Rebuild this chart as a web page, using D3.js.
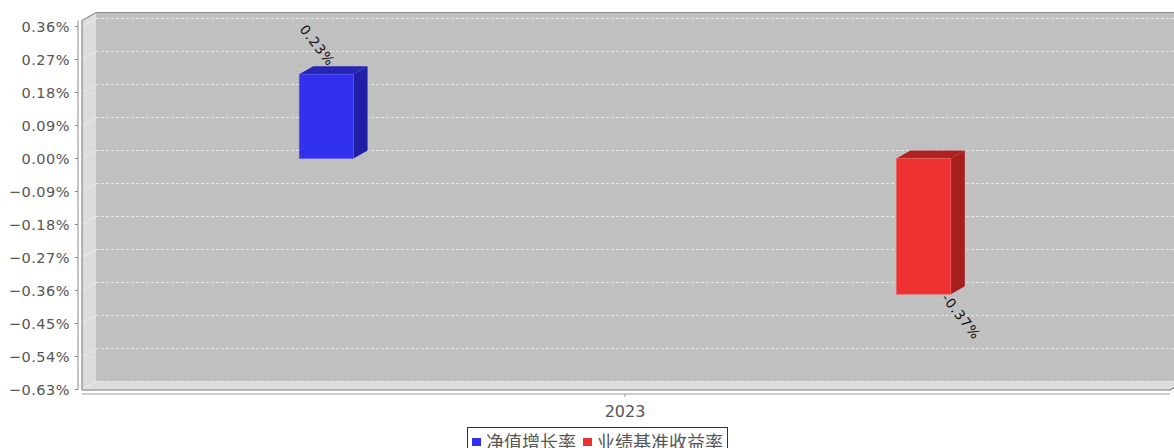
<!DOCTYPE html>
<html lang="zh">
<head>
  <meta charset="utf-8">
  <title>净值增长率 / 业绩基准收益率</title>
  <script src="https://d3js.org/d3.v7.min.js"></script>
  <style>
    body { margin: 0; background: #fff; }
    svg { display: block; }
  </style>
</head>
<body>
<svg id="chart" width="1174" height="448"></svg>
<script>
  // data
  const categories = ["2023"]
  const seriesNames = ["净值增长率", "业绩基准收益率"]
  const seriesValues = [0.23, -0.37]   // percent, one value per series for 2023
  const seriesLabels = ["0.23%", "-0.37%"]
  const yTicks = [0.36, 0.27, 0.18, 0.09, 0, -0.09, -0.18, -0.27, -0.36, -0.45, -0.54, -0.63]

  const frontColors = ["#3030ee", "#ee3030"]
  const sideColors = ["#2020a6", "#a81e1e"]
  const topColors = ["#2626b6", "#b02222"]

  // plot geometry (front plane) and 3d depth offset
  const left = 82, right = 1168, yTop = 20.5, yBottom = 389.5
  const dx = 14, dy = -8

  const svg = d3.select("#chart")

  const y = d3.scaleLinear()
    .domain([-0.63, 0.3764])
    .range([yBottom, yTop])

  const x0 = d3.scaleBand()
    .domain(categories)
    .range([left, right])

  const bw = x0.bandwidth()
  const x1 = d3.scaleBand()
    .domain(seriesNames)
    .range([0.2 * bw, 0.8 * bw])
    .paddingInner(0.909)

  // back wall
  svg.append("rect")
    .attr("x", left + dx).attr("y", yTop + dy)
    .attr("width", 1174 - left - dx + 20).attr("height", yBottom - yTop)
    .attr("fill", "#c0c0c0")

  // left wall
  svg.append("polygon")
    .attr("points", [[left, yTop], [left + dx, yTop + dy], [left + dx, yBottom + dy], [left, yBottom]].join(" "))
    .attr("fill", "#dcdcdc")

  // floor
  svg.append("polygon")
    .attr("points", [[left, yBottom], [left + dx, yBottom + dy], [right + dx, yBottom + dy], [right, yBottom]].join(" "))
    .attr("fill", "#dcdcdc")

  // gridlines on back wall
  svg.append("g")
    .selectAll("line")
    .data(yTicks)
    .enter()
    .append("line")
      .attr("x1", left + dx).attr("x2", 1174)
      .attr("y1", d => y(d) + dy).attr("y2", d => y(d) + dy)
      .attr("stroke", "#e6e6e6")
      .attr("stroke-width", 1)
      .attr("stroke-dasharray", "3,2")

  // faint gridlines on left wall
  svg.append("g")
    .selectAll("line")
    .data(yTicks)
    .enter()
    .append("line")
      .attr("x1", left).attr("x2", left + dx)
      .attr("y1", d => y(d)).attr("y2", d => y(d) + dy)
      .attr("stroke", "#eeeeee")
      .attr("stroke-width", 0.8)

  // plot outline
  const outline = "#8a8a8a"
  svg.append("path")
    .attr("d", `M${left},${yBottom + 0.5} L${left},${yTop} L${left + dx},${yTop + dy} L1174,${yTop + dy}`)
    .attr("fill", "none").attr("stroke", outline).attr("stroke-width", 1.2)
  svg.append("path")
    .attr("d", `M${left},${yBottom + 0.5} L${right + 2},${yBottom + 0.5} L${right + 6},${yBottom - 2}`)
    .attr("fill", "none").attr("stroke", "#707070").attr("stroke-width", 1.2)

  // bars
  const bars = svg.append("g")
  seriesNames.forEach(function (s, i) {
    const v = seriesValues[i]
    const bx = x0(categories[0]) + x1(s)
    const w = x1.bandwidth()
    const y0 = y(0), yv = y(v)
    const ya = Math.min(y0, yv), yb = Math.max(y0, yv)
    // side
    bars.append("polygon")
      .attr("points", [[bx + w, ya], [bx + w + dx, ya + dy], [bx + w + dx, yb + dy], [bx + w, yb]].join(" "))
      .attr("fill", sideColors[i])
    // top
    bars.append("polygon")
      .attr("points", [[bx, ya], [bx + dx, ya + dy], [bx + w + dx, ya + dy], [bx + w, ya]].join(" "))
      .attr("fill", topColors[i])
    // front
    bars.append("rect")
      .attr("x", bx).attr("y", ya)
      .attr("width", w).attr("height", yb - ya)
      .attr("fill", frontColors[i])
      .attr("stroke", i === 0 ? "#5a5af5" : "#f26060")
      .attr("stroke-width", 0.6)

    // rotated value label
    const lx = v >= 0 ? bx + w / 2 + 2 : bx + w - 10
    const ly = v >= 0 ? yv - 7 : yv + 4
    bars.append("text")
      .attr("transform", `translate(${lx},${ly}) rotate(52)`)
      .attr("text-anchor", v >= 0 ? "end" : "start")
      .style("font-family", "'DejaVu Sans', sans-serif")
      .style("font-size", "13.5px")
      .style("letter-spacing", "1px")
      .style("fill", "#111")
      .text(seriesLabels[i])
  })

  // y axis
  const axisX = 78
  svg.append("line")
    .attr("x1", axisX).attr("x2", axisX)
    .attr("y1", yTop).attr("y2", yBottom)
    .attr("stroke", "#8a8a8a").attr("stroke-width", 1)
  const yg = svg.append("g")
  yg.selectAll("line")
    .data(yTicks)
    .enter()
    .append("line")
      .attr("x1", axisX - 3).attr("x2", axisX)
      .attr("y1", d => y(d)).attr("y2", d => y(d))
      .attr("stroke", "#8a8a8a")
  yg.selectAll("text")
    .data(yTicks)
    .enter()
    .append("text")
      .attr("x", 70)
      .attr("y", d => y(d) + 5.5)
      .attr("text-anchor", "end")
      .style("font-family", "'DejaVu Sans', sans-serif")
      .style("font-size", "14.5px")
      .style("letter-spacing", "0.5px")
      .style("fill", "#555")
      .text(d => (d < 0 ? "\u2212" : "") + Math.abs(d).toFixed(2) + "%")

  // category axis
  const axisY = 394
  svg.append("line")
    .attr("x1", left).attr("x2", right + 2)
    .attr("y1", axisY).attr("y2", axisY)
    .attr("stroke", "#9a9a9a")
  const cx = x0(categories[0]) + bw / 2
  svg.append("line")
    .attr("x1", cx).attr("x2", cx)
    .attr("y1", axisY).attr("y2", axisY + 3)
    .attr("stroke", "#9a9a9a")
  svg.append("text")
    .attr("x", cx).attr("y", 417)
    .attr("text-anchor", "middle")
    .style("font-family", "'DejaVu Sans', sans-serif")
    .style("font-size", "16px")
    .style("fill", "#555")
    .text(categories[0])

  // legend
  const legend = svg.append("g")
  legend.append("rect")
    .attr("x", 467.5).attr("y", 427.5)
    .attr("width", 260).attr("height", 30)
    .attr("fill", "#fff").attr("stroke", "#333")
  const legendX = [472, 583]
  seriesNames.forEach(function (s, i) {
    legend.append("rect")
      .attr("x", legendX[i]).attr("y", 438)
      .attr("width", 9).attr("height", 8)
      .attr("fill", frontColors[i])
    legend.append("text")
      .attr("x", legendX[i] + 14).attr("y", 449)
      .style("font-family", "'Noto Sans CJK SC', sans-serif")
      .style("font-size", "18px")
      .style("fill", "#555")
      .text(s)
  })
</script>
</body>
</html>
